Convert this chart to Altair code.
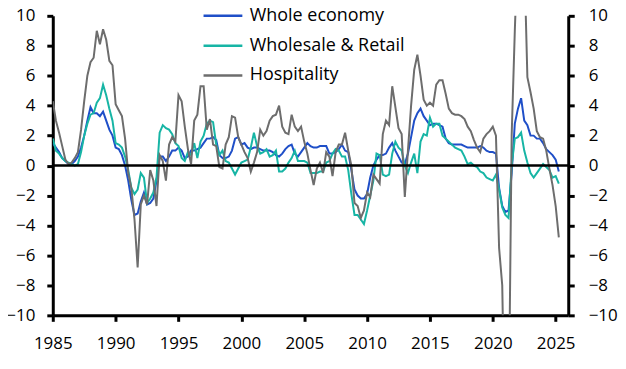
import altair as alt
import pandas as pd

start_year = 1985
series_names = ["Whole economy", "Wholesale & Retail", "Hospitality"]
colors = ["#1F4FC8", "#17B5A5", "#6D6D6D"]

whole_economy = [
    1.5, 1.2, 0.9, 0.5,   0.3, 0.1, 0.1, 0.3,   0.6, 1.2, 2.0, 3.0,   3.9, 3.5, 3.5, 3.3,
    3.6, 3.0, 2.4, 2.0,   1.2, 1.1, 0.7, 0.0,   -1.0, -2.3, -3.3, -3.2,  -2.4, -1.8, -2.6, -2.5,
    -2.2, -1.0, 0.6, 0.6,  0.3, 0.6, 1.0, 1.0,   1.2, 1.0, 0.5, 0.6,   1.0, 1.0, 1.1, 1.2,
    1.5, 1.8, 1.8, 1.9,   1.7, 0.7, 0.5, 0.5,   0.6, 1.0, 1.8, 1.9,   1.4, 1.5, 1.2, 1.1,
    1.2, 1.2, 1.1, 1.0,   1.0, 1.0, 0.9, 0.7,   0.6, 0.8, 1.1, 1.3,   1.4, 0.8, 0.6, 0.9,
    1.2, 1.5, 1.3, 1.2,   1.2, 1.3, 1.3, 1.3,   0.8, 0.8, 0.9, 1.1,   1.4, 1.0, 0.9, -0.3,
    -1.6, -2.0, -2.2, -2.2, -1.9, -0.8, 0.0, 0.4, 0.7, 0.7, 0.8, 1.2,   1.5, 1.0, 0.6, 0.2,
    0.1, 0.8, 1.9, 3.0,   3.5, 3.8, 3.3, 3.0,   2.7, 2.8, 2.8, 2.7,   2.6, 1.8, 1.5, 1.4,
    1.4, 1.4, 1.4, 1.3,   1.2, 1.2, 1.2, 1.2,   1.3, 1.2, 1.0, 0.9,   0.9, 0.8, -1.5, -2.7,
    -3.1, -3.0, -0.5, 2.8, 3.8, 4.5, 3.0, 2.7,  2.0, 2.0, 1.8, 1.8,   1.5, 1.1, 0.9, 0.7,
    0.4, -0.4,
]

wholesale_retail = [
    1.8, 1.0, 0.8, 0.5,   0.3, 0.2, 0.1, 0.0,   0.1, 0.9, 2.0, 2.8,   3.4, 3.5, 4.2, 4.5,
    5.4, 4.7, 3.8, 3.0,   1.5, 1.4, 1.2, 0.6,   -0.3, -1.5, -1.9, -1.6, -0.5, -0.8, -2.5, -2.2,
    -1.8, -0.8, 2.2, 2.7,  2.5, 2.4, 2.1, 1.5,   1.3, 0.5, 0.3, 0.9,   0.7, 1.5, 0.5, 1.6,
    2.0, 2.8, 3.0, 2.9,   1.4, 0.7, 1.0, 0.3,   0.2, -0.2, -0.6, -0.2, 0.2, 0.3, 0.4, 1.2,
    2.2, 1.3, 0.8, 0.9,   1.1, 0.6, 0.7, 1.0,   -0.4, -0.4, -0.2, 0.2, 0.5, 1.0, 0.3, 0.3,
    0.3, 0.2, -0.5, -0.5,  -0.5, -0.4, -0.4, 0.2, 0.3, 0.8, 1.1, 1.0,   0.6, 0.6, -0.3, -1.9,
    -3.3, -3.3, -3.6, -3.9, -3.0, -2.0, -1.0, 0.8, 0.7, -0.6, -0.7, -0.6, 0.8, 1.6, 1.2, 1.0,
    0.0, -0.5, 0.2, 0.8,  -0.5, 1.6, 2.1, 2.0,   3.2, 2.6, 2.8, 2.8,   2.0, 1.8, 1.6, 1.4,
    1.2, 1.1, 1.0, 0.6,   0.1, 0.2, 0.0, -0.1,  -0.4, -0.5, -0.8, -0.9, -1.0, -0.6, -1.6, -2.8,
    -3.3, -3.5, 0.0, 1.8,  1.9, 2.2, 1.0, 0.2,   -0.5, -0.8, -0.5, -0.2, 0.1, -0.1, -0.3, -0.8,
    -0.7, -1.2,
]

hospitality = [
    4.3, 3.0, 2.2, 1.3,   0.4, 0.1, 0.2, 0.5,   0.9, 2.4, 4.3, 6.0,   6.9, 7.2, 9.0, 8.1,
    9.1, 8.4, 7.0, 6.7,   4.1, 3.7, 3.3, 1.8,   -0.5, -1.5, -3.6, -6.8, -2.6, -2.0, -2.6, -0.3,
    -1.0, -2.7, 0.7, 0.3,  -1.0, 1.4, 1.9, 1.6,  4.7, 4.3, 2.6, 1.1,   0.1, 3.0, 3.4, 5.3,
    5.3, 2.4, 3.1, 1.4,   1.3, -0.1, -0.2, 1.4,  1.9, 3.3, 3.2, 1.9,   1.4, 0.9, 0.5, -0.4,
    0.2, 0.9, 2.4, 2.0,   2.3, 3.0, 3.3, 3.4,   4.0, 2.6, 2.2, 2.1,   3.4, 2.6, 2.3, 2.6,
    1.6, 0.8, -0.3, -1.3,  -0.2, 0.2, -0.5, 0.9,  0.6, -0.7, 0.9, 1.4,  1.4, 2.2, 1.0, 0.0,
    -2.5, -2.7, -3.5, -3.0, -1.8, -2.1, -0.6, -0.9, -1.2, 2.1, 3.0, 2.7, 5.3, 3.9, 2.5, 2.1,
    -2.1, 1.0, 4.0, 6.4,  7.4, 6.0, 4.4, 4.0,   4.2, 4.0, 5.4, 5.7,   5.7, 4.8, 3.8, 3.5,
    3.4, 3.4, 3.3, 3.1,   2.6, 2.3, 1.7, 1.2,   0.9, 1.8, 2.1, 2.3,   2.6, 2.0, -5.5, -8.0,
    -20.0, -18.0, 2.0, 9.0, 15.0, 20.0, 14.0, 5.9, 4.9, 3.8, 2.3, 1.9, 1.8, 1.0, -0.2, -1.3,
    -2.7, -4.8,
]

x_ticks = [1985, 1990, 1995, 2000, 2005, 2010, 2015, 2020, 2025]
y_ticks = [-10, -8, -6, -4, -2, 0, 2, 4, 6, 8, 10]

rows = []
for name, vals in zip(series_names, [whole_economy, wholesale_retail, hospitality]):
    for i, v in enumerate(vals):
        rows.append({"t": start_year + i / 4, "v": v, "s": name})
df = pd.DataFrame(rows)

FONT = "Open Sans"

lines = alt.Chart(df).mark_line(strokeWidth=2, clip=True).encode(
    x=alt.X("t:Q", scale=alt.Scale(domain=[1985, 2026], nice=False, zero=False),
            axis=alt.Axis(values=x_ticks, format="d", title=None, labelFlush=False,
                          labelOverlap=False)),
    y=alt.Y("v:Q", scale=alt.Scale(domain=[-10, 10], nice=False),
            axis=alt.Axis(orient="left", values=y_ticks, title=None, labelPadding=12)),
    color=alt.Color("s:N", scale=alt.Scale(domain=series_names, range=colors),
                    legend=alt.Legend(orient="none", legendX=150, legendY=-21, title=None,
                                      symbolType="stroke", symbolSize=1521,
                                      symbolStrokeWidth=2.5, labelFontSize=18,
                                      labelFont=FONT, labelColor="black", labelOffset=6,
                                      rowPadding=0, padding=0)),
    detail="s:N",
)

zero = alt.Chart(pd.DataFrame({"z": [0]})).mark_rule(color="black", strokeWidth=2.5).encode(
    y=alt.Y("z:Q", scale=alt.Scale(domain=[-10, 10], nice=False),
            axis=alt.Axis(orient="right", values=y_ticks, title=None)),
)

chart = alt.layer(lines, zero).resolve_scale(y="independent").properties(
    width=518, height=301,
    padding={"left": 45, "top": 7, "right": 50, "bottom": 40},
    autosize=alt.AutoSizeParams(type="none"),
).configure_view(stroke=None).configure_axis(
    domainColor="black", domainWidth=3, tickColor="black", tickWidth=3, tickSize=6,
    labelFont=FONT, labelFontSize=17, labelColor="black", labelPadding=14, grid=False,
)

chart.save("out.html", embed_options={"renderer": "svg", "actions": False})
